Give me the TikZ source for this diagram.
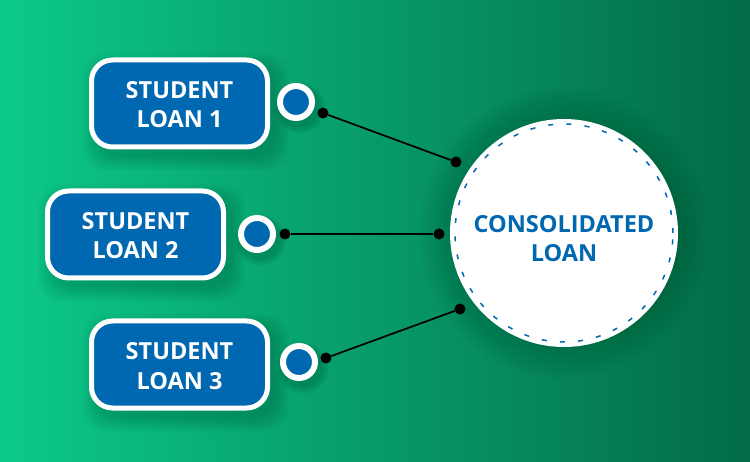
\documentclass[tikz,border=0pt]{standalone}
\usepackage{fontspec}
\setmainfont{Open Sans}
\usetikzlibrary{positioning}
\definecolor{loanblue}{HTML}{0067B1}
\definecolor{bgleft}{HTML}{0CC98A}
\definecolor{bgright}{HTML}{036B48}
\newcommand{\boxline}[1]{\raisebox{-10pt}[0pt][0pt]{#1}}
\newcommand{\roundline}[1]{\raisebox{-14.5pt}[0pt][0pt]{#1}}
\tikzset{
	loanbox/.style={draw=white, line width=5pt, fill=loanblue, rounded corners=21pt, minimum width=176pt, minimum height=87pt, text=white, align=center, font=\fontsize{23.5}{29}\selectfont\bfseries},
	pin/.style={circle, draw=white, line width=6pt, fill=loanblue, minimum size=32pt, inner sep=0pt},
	dot/.style={circle, fill=black, minimum size=11pt, inner sep=0pt},
	link/.style={line width=1.7pt, black}
}
\begin{document}
\begin{tikzpicture}[x=1pt, y=-1pt]
	\useasboundingbox (0,0) rectangle (750,462);
	\shade [left color=bgleft, right color=bgright] (0,0) rectangle (750,462);
	% soft shadows
	\foreach \s in {0,2,...,14} {
		\fill [black, opacity=0.018, rounded corners=24pt] (90-\s+6,58-\s+9) rectangle (269+\s+6,148+\s+9);
		\fill [black, opacity=0.018, rounded corners=24pt] (46-\s+6,189-\s+9) rectangle (225+\s+6,279+\s+9);
		\fill [black, opacity=0.018, rounded corners=24pt] (90-\s+6,319-\s+9) rectangle (269+\s+6,409+\s+9);
		\fill [black, opacity=0.018] (296+4,102+6) circle [radius=19+\s/2];
		\fill [black, opacity=0.018] (257+4,234+6) circle [radius=19+\s/2];
		\fill [black, opacity=0.018] (299+4,362+6) circle [radius=19+\s/2];
	}
	\foreach \s in {0,4,...,32} {
		\fill [black, opacity=0.016] (564,233) circle [radius=113+\s];
	}
	\node [loanbox] (loanA) at (179.5,103.5) {\boxline{STUDENT}\\\boxline{LOAN 1}};
	\node [loanbox] (loanB) at (135.5,234.5) {\boxline{STUDENT}\\\boxline{LOAN 2}};
	\node [loanbox] (loanC) at (179.5,364.5) {\boxline{STUDENT}\\\boxline{LOAN 3}};
	\node [pin] (pinA) at (296,102) {};
	\node [pin] (pinB) at (257,234) {};
	\node [pin] (pinC) at (299,362) {};
	\node [circle, fill=white, minimum size=228pt, inner sep=0pt, text=loanblue, align=center, font=\fontsize{23.5}{29}\selectfont\bfseries] (consolidated) at (564,233) {\roundline{CONSOLIDATED}\\\roundline{LOAN}};
	\draw [loanblue, line width=1.5pt, dash pattern=on 5pt off 13.2pt] (consolidated.center) ++(0:109) arc [start angle=0, end angle=-360, radius=109];
	\node [dot] (startA) at (323,113) {};
	\node [dot] (endA) at (456,162) {};
	\node [dot] (startB) at (285,234) {};
	\node [dot] (endB) at (439,234) {};
	\node [dot] (startC) at (326,358) {};
	\node [dot] (endC) at (460,309) {};
	\draw [link] (startA) -- (endA);
	\draw [link] (startB) -- (endB);
	\draw [link] (startC) -- (endC);
\end{tikzpicture}
\end{document}
